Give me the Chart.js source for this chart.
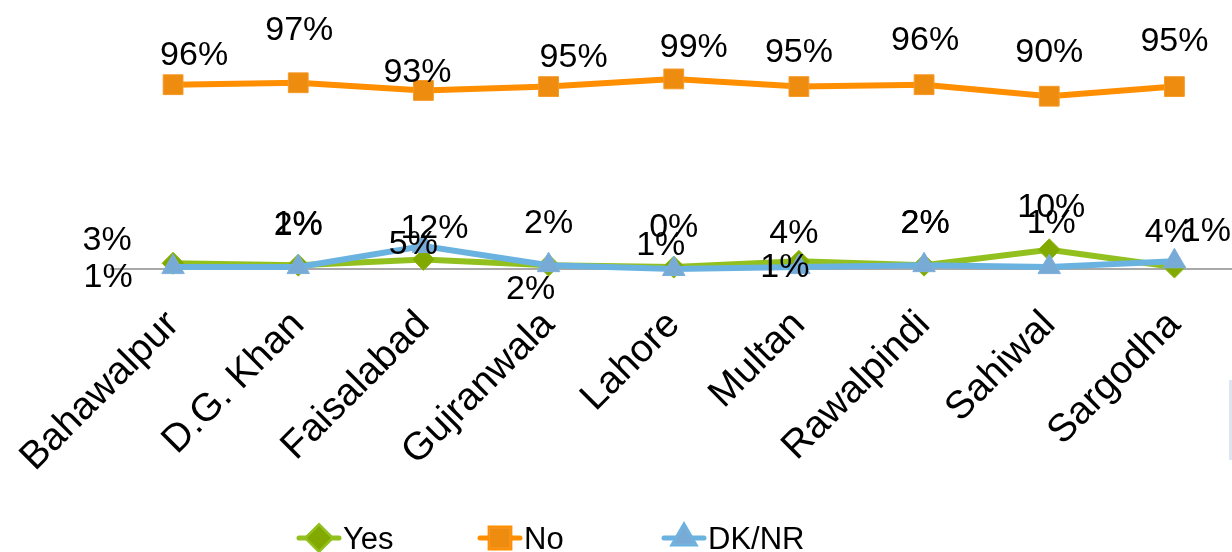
<!DOCTYPE html>
<html>
<head>
<meta charset="utf-8">
<script src="https://cdn.jsdelivr.net/npm/chart.js@4/dist/chart.umd.min.js"></script>
<style>
  html, body { margin: 0; padding: 0; background: #fff; overflow: hidden; width: 1232px; height: 552px; }
  #c { position: absolute; left: 0; top: 0; width: 1252px; height: 552px; }
  #edge { position: absolute; left: 1229px; top: 380px; width: 3px; height: 80px; background: #dfe4ee; }
</style>
</head>
<body>
<canvas id="c" width="1252" height="552"></canvas>
<div id="edge"></div>
<script>
// Districts along the horizontal axis
const categories = ['Bahawalpur', 'D.G. Khan', 'Faisalabad', 'Gujranwala', 'Lahore', 'Multan', 'Rawalpindi', 'Sahiwal', 'Sargodha'];

// Share of answers per district (%)
const yesValues = [3, 2, 5, 2, 1, 4, 2, 10, 1];
const noValues  = [96, 97, 93, 95, 99, 95, 96, 90, 95];
const dkValues  = [1, 1, 12, 2, 0, 1, 2, 1, 4];

const seriesNames = ['Yes', 'No', 'DK/NR'];

// Where each value label sits relative to its point (px: dx, dy of the label centre)
const yesLabelOffsets = [[-66, -23], [0, -40], [-10, -15], [0, -42], [-13, -21], [-5, -28], [1, -42], [2, -42], [32, -35]];
const noLabelOffsets  = [[21, -29], [1, -52], [-6, -18], [25, -29], [20, -31], [0, -34], [1, -44], [0, -44], [0, -45]];
const dkLabelOffsets  = [[-65, 11], [0, -42], [11, -17], [-18, 24], [0, -41], [-14, 1], [1, -42], [2, -43], [-5, -29]];

// Legend item left edges and baseline
const legendItemX = [297, 478, 662];
const legendY = 538;

const FONT = "'Liberation Sans', Arial, sans-serif";

const styles = [
  { line: '#92C11F', marker: '#82A900', markerEdge: '#8DB814', pointStyle: 'rectRot', radius: 11 },
  { line: '#FF8F00', marker: '#EE8C10', markerEdge: '#F59A2A', pointStyle: 'rect', radius: 14 },
  { line: '#6AB3E0', marker: '#78AAD6', markerEdge: '#7CB0DC', pointStyle: 'triangle', radius: 13 }
];
const seriesValues = [yesValues, noValues, dkValues];
const labelOffsets = [yesLabelOffsets, noLabelOffsets, dkLabelOffsets];
const drawOrder = [2, 1, 0];

const datasets = seriesValues.map((vals, i) => ({
  label: seriesNames[i],
  data: vals,
  borderColor: styles[i].line,
  backgroundColor: styles[i].line,
  borderWidth: 6,
  tension: 0,
  pointStyle: styles[i].pointStyle,
  pointRadius: styles[i].radius,
  pointHoverRadius: styles[i].radius,
  pointBackgroundColor: styles[i].marker,
  pointBorderColor: styles[i].markerEdge,
  pointBorderWidth: 1,
  clip: false,
  order: drawOrder[i],
  labelOffsets: labelOffsets[i]
}));

// Percent labels next to every point
const valueLabels = {
  id: 'valueLabels',
  afterDatasetsDraw(chart) {
    const ctx = chart.ctx;
    ctx.save();
    ctx.font = '34px ' + FONT;
    ctx.fillStyle = '#000';
    ctx.textAlign = 'center';
    ctx.textBaseline = 'middle';
    chart.data.datasets.forEach((ds, di) => {
      const meta = chart.getDatasetMeta(di);
      meta.data.forEach((pt, j) => {
        const off = ds.labelOffsets[j];
        ctx.fillText(ds.data[j] + '%', pt.x + off[0], pt.y + off[1]);
      });
    });
    ctx.restore();
  }
};

// Line-and-marker legend under the axis labels
const lineLegend = {
  id: 'lineLegend',
  afterDraw(chart) {
    const ctx = chart.ctx;
    ctx.save();
    chart.data.datasets.forEach((ds, i) => {
      const x0 = legendItemX[i];
      ctx.strokeStyle = ds.borderColor;
      ctx.lineWidth = 5;
      ctx.lineCap = 'round';
      ctx.beginPath();
      ctx.moveTo(x0 + 2, legendY);
      ctx.lineTo(x0 + 42, legendY);
      ctx.stroke();
      Chart.helpers.drawPoint(ctx, {
        pointStyle: ds.pointStyle,
        radius: ds.pointStyle === 'rect' ? 14 : 12,
        borderWidth: 1,
        rotation: 0
      }, x0 + 22, legendY);
      ctx.fillStyle = ds.pointBackgroundColor;
      ctx.strokeStyle = ds.pointBorderColor;
      ctx.lineWidth = 1;
      ctx.fill();
      ctx.stroke();
      ctx.fillStyle = '#000';
      ctx.font = '31px ' + FONT;
      ctx.textAlign = 'left';
      ctx.textBaseline = 'middle';
      ctx.fillText(ds.label, x0 + 46, legendY + 2);
    });
    ctx.restore();
  }
};

new Chart(document.getElementById('c'), {
  type: 'line',
  data: { labels: categories, datasets },
  plugins: [valueLabels, lineLegend],
  options: {
    responsive: false,
    animation: false,
    events: [],
    layout: { padding: { left: 110.5, right: 5.75, top: 77, bottom: 53 } },
    plugins: { legend: { display: false }, tooltip: { enabled: false } },
    scales: {
      x: {
        offset: true,
        grid: { display: false, drawTicks: false },
        border: { display: true, color: '#A9A9A9', width: 2 },
        ticks: {
          autoSkip: false,
          minRotation: 45,
          maxRotation: 45,
          padding: 33,
          color: '#000',
          font: { family: FONT, size: 39 }
        },
        afterFit(scale) {
          scale.height = 230;
          scale.paddingLeft = 0;
          scale.paddingRight = 0;
        }
      },
      y: {
        display: false,
        min: 0,
        max: 100
      }
    }
  }
});
</script>
</body>
</html>
